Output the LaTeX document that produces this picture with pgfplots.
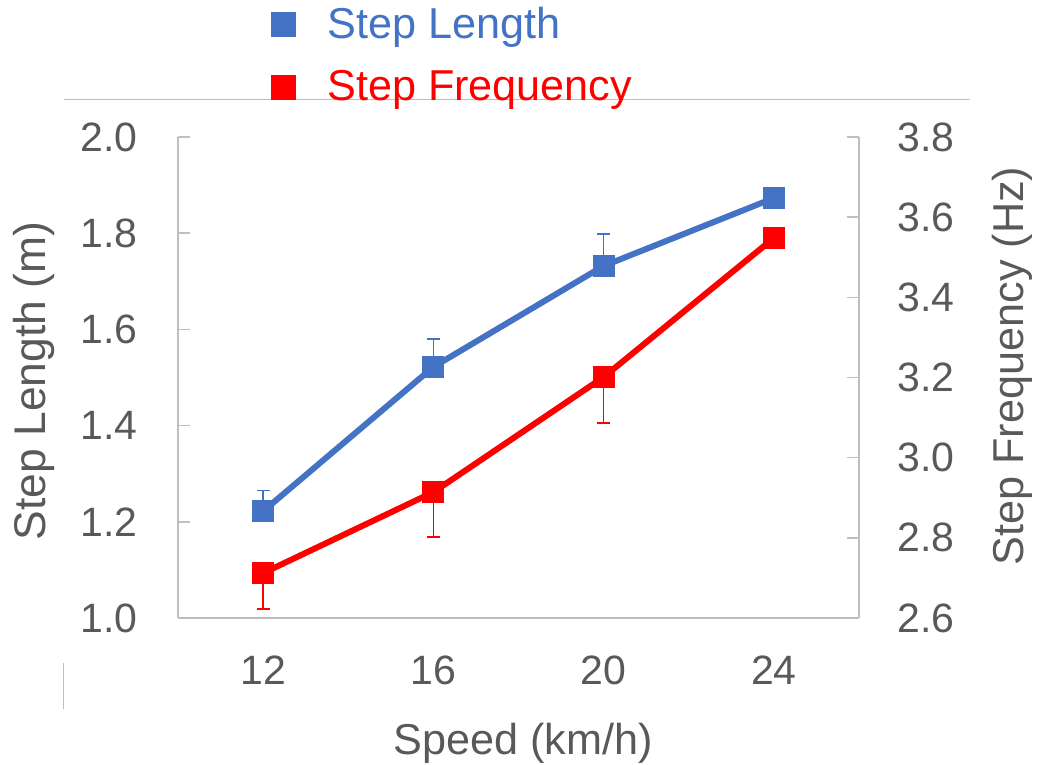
\documentclass[border=0pt]{standalone}
\usepackage{fontspec}
\setmainfont{Liberation Sans}
\usepackage{pgfplots}
\pgfplotsset{compat=1.18}
\definecolor{blueC}{HTML}{4472C4}
\definecolor{redC}{HTML}{FF0000}
\definecolor{axisgray}{HTML}{BFBFBF}
\definecolor{txtgray}{HTML}{595959}
\newcommand{\fs}{\fontsize{20.5}{24}\selectfont}
\newcommand{\fl}{\fontsize{21.6}{25}\selectfont}
\pgfplotsset{common/.style={
  width=340.5pt, height=240.5pt, scale only axis,
  xmin=10, xmax=26,
  xtick={12,16,20,24},
  /pgf/number format/assume math mode=true,
  tick label style={font=\fs, text=txtgray, inner sep=0pt},
  label style={font=\fl, text=txtgray},
  axis line style={draw=axisgray, line width=0.75pt, -},
  major tick length=6pt, tick align=inside,
  tick style={draw=axisgray, line width=0.75pt},
  xtick style={draw=none},
  clip=false,
}}
\begin{document}
\begin{tikzpicture}
\path[use as bounding box] (-89pt,-73.5pt) rectangle (430pt,309pt);
\draw[axisgray, line width=0.5pt] (-57pt,259pt) -- (396pt,259pt);
\draw[axisgray, line width=0.5pt] (-57pt,-22.5pt) -- (-57pt,-45.5pt);
\begin{axis}[common,
  axis x line*=bottom, axis y line*=left,
  ymin=1, ymax=2, ytick={1.0,1.2,1.4,1.6,1.8,2.0},
  yticklabel style={/pgf/number format/.cd, fixed, fixed zerofill, precision=1, /tikz/.cd, anchor=east, xshift=-20pt},
  xticklabel style={anchor=north, yshift=-18.5pt},
  xlabel={Speed (km/h)},
  xlabel style={at={(axis description cs:0.507,-0.2848)}, anchor=base},
  ylabel={Step Length (m)},
  ylabel style={at={(axis description cs:-0.170,0.493)}, anchor=south, font=\fontsize{22.2}{26}\selectfont},
]
\addplot[blueC, line width=3pt, mark=square*, mark size=5.2pt, mark options={solid, fill=blueC, draw=blueC, line width=0pt},
  error bars/.cd, y dir=plus, y explicit,
  error bar style={line width=0.8pt, blueC},
  error mark options={rotate=90, mark size=3.3pt, line width=0.8pt, blueC}]
  coordinates {
  (12,1.222) +- (0,0.043)
  (16,1.522) +- (0,0.058)
  (20,1.732) +- (0,0.066)
  (24,1.873) +- (0,0)
  };
\end{axis}
\begin{axis}[common,
  axis x line=none, axis y line*=right,
  ymin=2.6, ymax=3.8, ytick={2.6,2.8,3.0,3.2,3.4,3.6,3.8},
  yticklabel style={/pgf/number format/.cd, fixed, fixed zerofill, precision=1, /tikz/.cd, anchor=west, xshift=19pt},
  ylabel={Step Frequency (Hz)},
  ylabel style={at={(axis description cs:1.185,0.524)}, anchor=north},
  legend style={draw=none, fill=none, at={(axis description cs:0.1278,1.279)}, anchor=north west,
    font=\fl, nodes={inner sep=0pt}, row sep=14.5pt, column sep=15.5pt},
  legend cell align=left,
]
\addlegendimage{legend image code/.code={\fill[blueC] (0pt,-6pt) rectangle (12pt,6pt);}}
\addlegendentry{\textcolor{blueC}{Step Length}}
\addlegendimage{legend image code/.code={\fill[redC] (0pt,-6pt) rectangle (12pt,6pt);}}
\addlegendentry{\textcolor{redC}{Step Frequency}}
\addplot[forget plot, redC, line width=3pt, mark=square*, mark size=5.2pt, mark options={solid, fill=redC, draw=redC, line width=0pt},
  error bars/.cd, y dir=minus, y explicit,
  error bar style={line width=0.8pt, redC},
  error mark options={rotate=90, mark size=3.3pt, line width=0.8pt, redC}]
  coordinates {
  (12,2.712) +- (0,0.090)
  (16,2.914) +- (0,0.112)
  (20,3.201) +- (0,0.114)
  (24,3.548) +- (0,0)
  };
\end{axis}
\end{tikzpicture}
\end{document}
